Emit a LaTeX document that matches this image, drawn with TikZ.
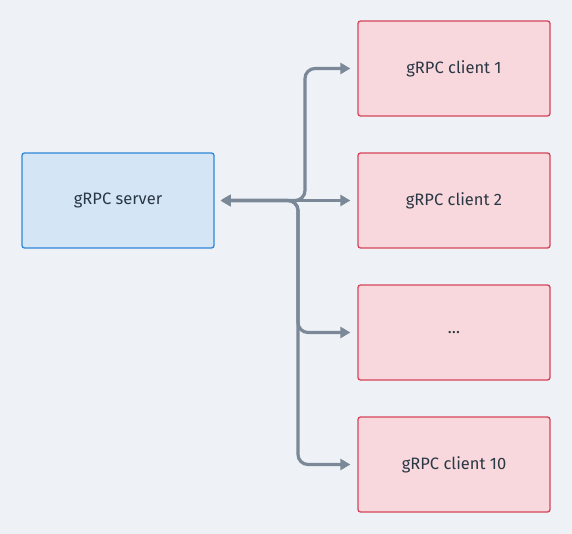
\documentclass[tikz,border=0pt]{standalone}
\usepackage{fontspec}
\setmainfont{Fira Sans}
\usetikzlibrary{arrows.meta,positioning}
\definecolor{bgc}{HTML}{EEF2F6}
\definecolor{srvfill}{HTML}{D4E5F6}
\definecolor{srvline}{HTML}{2E88DA}
\definecolor{clfill}{HTML}{F8D8DD}
\definecolor{clline}{HTML}{D6455A}
\definecolor{linkc}{HTML}{7A8898}
\definecolor{txt}{HTML}{2A3744}
\tikzset{
  srvbox/.style={draw=srvline,fill=srvfill,line width=1.3pt,rounded corners=2.5pt,minimum width=192pt,minimum height=95pt,font=\fontsize{16.5}{19}\selectfont,text=txt},
  clbox/.style={draw=clline,fill=clfill,line width=1.3pt,rounded corners=2.5pt,minimum width=192pt,minimum height=95pt,font=\fontsize{16.5}{19}\selectfont,text=txt},
  link/.style={draw=linkc,line width=3.2pt,rounded corners=10pt,{Triangle[length=10pt,width=11pt]}-{Triangle[length=10pt,width=11pt]},shorten <=6pt,shorten >=7pt}
}
\begin{document}
\begin{tikzpicture}[x=1pt,y=-1pt]
\fill[bgc] (0,0) rectangle (572,534);
\useasboundingbox (0,0) rectangle (572,534);
\node[srvbox] (srv) at (118,200.5) {gRPC server};
% clients
\foreach \n/\y/\t in {cl1/68.5/gRPC client 1,cl2/200.5/gRPC client 2,cl3/332.5/{…},cl4/464.5/gRPC client 10}
  \node[clbox] (\n) at (454,\y) {\t};
\draw[link] (srv.east) -- (305,200.5) |- (cl1.west);
\draw[link] (srv.east) -- (cl2.west);
\foreach \u in {cl3,cl4} \draw[link] (srv.east) -- (298,200.5) |- (\u.west);
\end{tikzpicture}
\end{document}
